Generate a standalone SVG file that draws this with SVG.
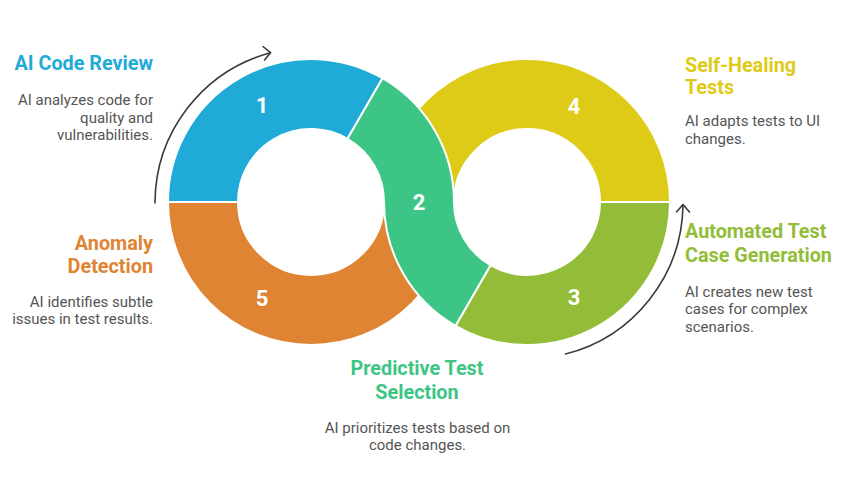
<svg xmlns="http://www.w3.org/2000/svg" width="857" height="481" viewBox="0 0 857 481">
<style>
.seg{stroke:#fff;stroke-width:2;stroke-linejoin:round}
.num{font-family:Roboto,"Liberation Sans",sans-serif;font-weight:700;font-size:22px;fill:#fff;text-anchor:middle}
.ttl{font-family:Roboto,"Liberation Sans",sans-serif;font-weight:700;font-size:19.8px}
.dsc{font-family:Roboto,"Liberation Sans",sans-serif;font-size:15px;fill:#555}
.arr{fill:none;stroke:#3a3a3a;stroke-width:1.6;stroke-linecap:round;stroke-linejoin:round}
</style>
<rect width="857" height="481" fill="#fff"/>
<g id="node1">
<path class="seg" fill="#20AAD8" d="M168,202 A143,143 0 0 1 382.5,78.2 L347.5,138.8 A73,73 0 0 0 238,202 Z"/>
<text class="num" x="262" y="113">1</text>
<text class="ttl" fill="#20AAD8" x="153" y="70" text-anchor="end">AI Code Review</text>
<text class="dsc" text-anchor="end"><tspan x="153" y="105">AI analyzes code for</tspan><tspan x="153" y="122.5">quality and</tspan><tspan x="153" y="140">vulnerabilities.</tspan></text>
</g>
<g id="node5">
<path class="seg" fill="#DE8432" d="M168,202 A143,143 0 0 0 311,345 A143,143 0 0 0 454,202 L384,202 A73,73 0 0 1 311,275 A73,73 0 0 1 238,202 Z"/>
<text class="num" x="262" y="306">5</text>
<text class="ttl" fill="#DE8432" text-anchor="end"><tspan x="153" y="250">Anomaly</tspan><tspan x="153" y="273">Detection</tspan></text>
<text class="dsc" text-anchor="end"><tspan x="153" y="306.5">AI identifies subtle</tspan><tspan x="153" y="324">issues in test results.</tspan></text>
</g>
<g id="node4">
<path class="seg" fill="#DECB17" d="M384,202 A143,143 0 0 1 527,59 A143,143 0 0 1 670,202 L600,202 A73,73 0 0 0 527,129 A73,73 0 0 0 454,202 Z"/>
<text class="num" x="574" y="114">4</text>
<text class="ttl" fill="#DECB17"><tspan x="685" y="71.5">Self-Healing</tspan><tspan x="685" y="94">Tests</tspan></text>
<text class="dsc"><tspan x="685" y="126">AI adapts tests to UI</tspan><tspan x="685" y="143.5">changes.</tspan></text>
</g>
<g id="node3">
<path class="seg" fill="#93BD39" d="M670,202 A143,143 0 0 1 455.5,325.8 L490.5,265.2 A73,73 0 0 0 600,202 Z"/>
<text class="num" x="574" y="305">3</text>
<text class="ttl" fill="#93BD39"><tspan x="685" y="238">Automated Test</tspan><tspan x="685" y="261.5">Case Generation</tspan></text>
<text class="dsc"><tspan x="685" y="296.5">AI creates new test</tspan><tspan x="685" y="314">cases for complex</tspan><tspan x="685" y="331.5">scenarios.</tspan></text>
</g>
<g id="node2">
<path class="seg" fill="#3DC585" d="M382.5,78.2 A143,143 0 0 1 454,202 A73,73 0 0 0 490.5,265.2 L455.5,325.8 A143,143 0 0 1 384,202 A73,73 0 0 0 347.5,138.8 Z"/>
<text class="num" x="419" y="210">2</text>
<text class="ttl" fill="#3DC585" text-anchor="middle"><tspan x="417" y="375">Predictive Test</tspan><tspan x="417" y="398.5">Selection</tspan></text>
<text class="dsc" text-anchor="middle"><tspan x="417.5" y="432.5">AI prioritizes tests based on</tspan><tspan x="417.5" y="449.5">code changes.</tspan></text>
</g>
<g id="connectors">
<path class="arr" d="M155,203 A156,156 0 0 1 270.5,52.7"/>
<path class="arr" d="M263,46.5 L270.5,52.7 L264.5,60"/>
<path class="arr" d="M565.5,354 A156,156 0 0 0 683,205"/>
<path class="arr" d="M676.5,212 L683,204.5 L689.5,212"/>
</g>
</svg>
